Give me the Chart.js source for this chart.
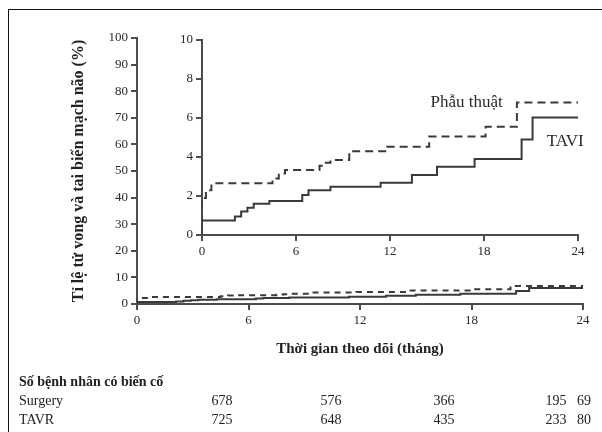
<!DOCTYPE html>
<html>
<head>
<meta charset="utf-8">
<script src="https://cdn.jsdelivr.net/npm/chart.js@4"></script>
<style>
    body { margin: 0; background: #fff; }
    #wrap { position: relative; width: 602px; height: 432px; overflow: hidden; background: #fff; }
    #frame { position: absolute; left: 8px; top: 9px; right: -2px; bottom: -2px; border-left: 1px solid #111; border-top: 1px solid #111; }
    canvas { position: absolute; left: 0; top: 0; }
</style>
</head>
<body>
<div id="wrap">
    <div id="frame"></div>
    <canvas id="graficoPrincipal" width="602" height="432"></canvas>
    <canvas id="graficoRecuadro" width="602" height="432"></canvas>
</div>
<script>
// Datos (meses de seguimiento, % acumulado)
const mesesTavi = [0, 0, 2.1, 2.5, 2.9, 3.3, 4.3, 6.4, 6.8, 8.2, 11.4, 13.4, 15.0, 17.4, 20.4, 21.1, 24];
const tasaTavi = [0, 0.75, 0.95, 1.2, 1.4, 1.6, 1.75, 2.05, 2.3, 2.48, 2.68, 3.08, 3.5, 3.9, 4.9, 6.03, 6.03];
const mesesCirugia = [0, 0, 0.25, 0.6, 4.5, 4.9, 5.3, 7.5, 7.9, 8.2, 9.4, 11.8, 14.5, 18.1, 20.1, 24];
const tasaCirugia = [0, 1.9, 2.3, 2.65, 2.9, 3.15, 3.33, 3.55, 3.7, 3.85, 4.3, 4.53, 5.05, 5.55, 6.8, 6.8];

const ticksMeses = [0, 6, 12, 18, 24];
const ticksPrincipal = [0, 10, 20, 30, 40, 50, 60, 70, 80, 90, 100];
const ticksRecuadro = [0, 2, 4, 6, 8, 10];

// Numero de pacientes en riesgo
const filasRiesgo = ['Surgery', 'TAVR'];
const riesgoCirugia = [678, 576, 366, 195, 69];
const riesgoTavr = [725, 648, 435, 233, 80];

const colorEje = '#4d4d4d';
const colorLinea = '#3a3a3a';
const serif = 'Liberation Serif, Times New Roman, serif';

const puntos = (xs, ys) => xs.map((x, i) => ({ x: x, y: ys[i] }));

function series(dash) {
    return [
        {
            label: 'TAVI',
            data: puntos(mesesTavi, tasaTavi),
            borderColor: colorLinea,
            borderWidth: 2,
            stepped: 'before',
            pointRadius: 0,
            fill: false
        },
        {
            label: 'Phẫu thuật',
            data: puntos(mesesCirugia, tasaCirugia),
            borderColor: colorLinea,
            borderWidth: 2,
            borderDash: dash,
            stepped: 'before',
            pointRadius: 0,
            fill: false
        }
    ];
}

function eje(valores, min, max, opciones) {
    return Object.assign({
        type: 'linear',
        min: min,
        max: max,
        afterBuildTicks: s => { s.ticks = valores.map(v => ({ value: v })); },
        border: { display: true, color: colorEje, width: 2 },
        grid: { drawOnChartArea: false, drawTicks: true, tickLength: 6, color: colorEje, lineWidth: 2 },
        ticks: { color: '#2a2a2a', font: { family: serif, size: 13 }, maxRotation: 0, autoSkip: false }
    }, opciones);
}

// Tabla de pacientes en riesgo debajo del grafico
const tablaRiesgo = {
    id: 'tablaRiesgo',
    afterDraw(chart) {
        const ctx = chart.ctx;
        const columnas = [222, 331, 444, 556, 584];
        ctx.save();
        ctx.fillStyle = '#222';
        ctx.textBaseline = 'middle';
        ctx.textAlign = 'left';
        ctx.font = 'bold 14px ' + serif;
        ctx.fillText('Số bệnh nhân có biến cố', 19, 382);
        ctx.font = '14px ' + serif;
        [riesgoCirugia, riesgoTavr].forEach((fila, i) => {
            const y = 401 + i * 19;
            ctx.textAlign = 'left';
            ctx.fillText(filasRiesgo[i], 19, y);
            ctx.textAlign = 'center';
            fila.forEach((n, j) => ctx.fillText(String(n), columnas[j], y));
        });
        ctx.restore();
    }
};

// Etiquetas de las curvas en el recuadro
const etiquetas = {
    id: 'etiquetas',
    afterDatasetsDraw(chart) {
        const ctx = chart.ctx;
        const x = chart.scales.x, y = chart.scales.y;
        ctx.save();
        ctx.fillStyle = '#2a2a2a';
        ctx.font = '17px ' + serif;
        ctx.textBaseline = 'middle';
        ctx.textAlign = 'right';
        ctx.fillText('Phẫu thuật', x.getPixelForValue(19.2), y.getPixelForValue(6.8));
        ctx.textAlign = 'left';
        ctx.fillText('TAVI', x.getPixelForValue(22.0), y.getPixelForValue(4.8));
        ctx.restore();
    }
};

new Chart(document.getElementById('graficoPrincipal').getContext('2d'), {
    type: 'line',
    data: { datasets: series([6, 5]) },
    options: {
        responsive: false,
        animation: false,
        layout: { padding: { left: 69, top: 38, right: 19, bottom: 70 } },
        plugins: { legend: { display: false }, tooltip: { enabled: false } },
        scales: {
            x: eje(ticksMeses, 0, 24, {
                afterFit: s => { s.height = 58; },
                title: {
                    display: true,
                    text: 'Thời gian theo dõi (tháng)',
                    color: '#222',
                    font: { family: serif, size: 15, weight: 'bold' },
                    padding: { top: 0, bottom: 4 }
                }
            }),
            y: eje(ticksPrincipal, 0, 100, {
                afterFit: s => { s.width = 68; },
                title: {
                    display: true,
                    text: 'Tỉ lệ tử vong và tai biến mạch não (%)',
                    color: '#222',
                    font: { family: serif, size: 16, weight: 'bold' },
                    padding: { top: 0, bottom: 0 }
                }
            })
        }
    },
    plugins: [tablaRiesgo]
});

new Chart(document.getElementById('graficoRecuadro').getContext('2d'), {
    type: 'line',
    data: { datasets: series([8, 5]) },
    options: {
        responsive: false,
        animation: false,
        layout: { padding: { left: 172, top: 40, right: 24, bottom: 172 } },
        plugins: { legend: { display: false }, tooltip: { enabled: false } },
        scales: {
            x: eje(ticksMeses, 0, 24, { afterFit: s => { s.height = 25; } }),
            y: eje(ticksRecuadro, 0, 10, { afterFit: s => { s.width = 30; } })
        }
    },
    plugins: [etiquetas]
});
</script>
</body>
</html>
